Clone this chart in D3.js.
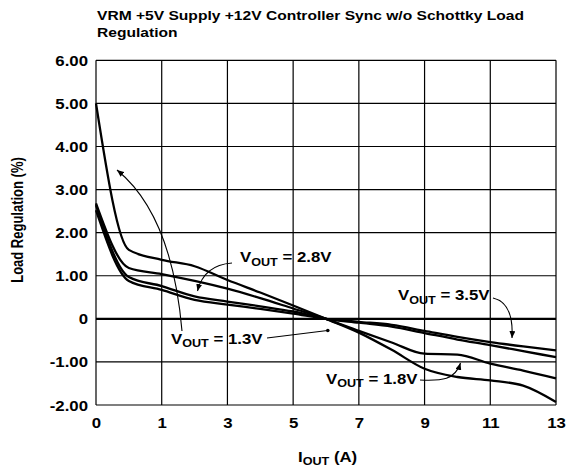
<!DOCTYPE html>
<html><head><meta charset="utf-8">
<script src="https://cdn.jsdelivr.net/npm/d3@7/dist/d3.min.js"></script>
<style>
body{margin:0;background:#fff}
text{font-family:"Liberation Sans",Arial,Helvetica,sans-serif;font-weight:bold;fill:#000}
</style>
</head><body>
<svg id="chart" width="573" height="467"></svg>
<script>
// ---- data ----
const categories = ["0","0.5","1","2","3","4","5","6","7","8","9","10","11","12","13"];
const xTickLabels = ["0","1","3","5","7","9","11","13"];
const yTicks = [-2,-1,0,1,2,3,4,5,6];
const vout13 = [5.00,1.60,1.37,1.22,0.90,0.61,0.31,0,-0.32,-0.72,-1.16,-1.35,-1.43,-1.55,-1.93];
const vout18 = [2.68,1.18,1.04,0.88,0.70,0.48,0.24,0,-0.28,-0.55,-0.81,-0.83,-1.04,-1.20,-1.38];
const vout28 = [2.64,0.97,0.76,0.52,0.40,0.29,0.17,0,-0.09,-0.18,-0.33,-0.48,-0.61,-0.75,-0.89];
const vout35 = [2.52,0.88,0.67,0.44,0.33,0.23,0.12,0,-0.07,-0.14,-0.28,-0.42,-0.54,-0.64,-0.73];
const titleLines = ["VRM +5V Supply +12V Controller Sync w/o Schottky Load","Regulation"];

const SX = 1.2; // horizontal stretch of the original artwork text
const svg = d3.select("#chart");
const pLeft = 96, pRight = 556, pTop = 60.3, pBottom = 405;

const x = d3.scalePoint().domain(categories).range([pLeft, pRight]);
const y = d3.scaleLinear().domain([-2, 6]).range([pBottom, pTop]);

// defs: arrowhead
svg.append("defs").append("marker")
  .attr("id","arr").attr("markerUnits","userSpaceOnUse")
  .attr("markerWidth",8).attr("markerHeight",6)
  .attr("refX",7).attr("refY",3).attr("orient","auto")
  .append("path").attr("d","M0,0 L7,3 L0,6 Z").attr("fill","#000");

// grid
const grid = svg.append("g");
grid.selectAll("line.v").data(xTickLabels).join("line").attr("class","v")
  .attr("x1", d => x(d)).attr("x2", d => x(d))
  .attr("y1", pTop).attr("y2", pBottom)
  .attr("stroke","#000").attr("stroke-width",1.2);
grid.selectAll("line.h").data(yTicks).join("line").attr("class","h")
  .attr("x1", pLeft).attr("x2", pRight)
  .attr("y1", d => y(d)).attr("y2", d => y(d))
  .attr("stroke","#000").attr("stroke-width", d => d === 0 ? 2.4 : 1.2);

// axes (labels only)
const yAxis = svg.append("g").attr("transform",`translate(${pLeft},0)`)
  .call(d3.axisLeft(y).tickValues(yTicks).tickSize(0).tickPadding(0)
    .tickFormat(d => d === 0 ? "0" : d.toFixed(2)));
yAxis.select(".domain").remove();
yAxis.selectAll("text").attr("x",null).attr("dy","0.36em")
  .attr("font-size",14).attr("text-anchor","end")
  .attr("transform",`translate(-8,0) scale(${SX},1)`)
  .style("font-family",'"Liberation Sans",Arial,sans-serif').style("font-weight","bold");

const xAxis = svg.append("g").attr("transform",`translate(0,${pBottom})`)
  .call(d3.axisBottom(x).tickValues(xTickLabels).tickSize(0).tickPadding(0));
xAxis.select(".domain").remove();
xAxis.selectAll("text").attr("y",null).attr("dy",null)
  .attr("font-size",14)
  .attr("transform",`translate(0,23) scale(${SX},1)`)
  .style("font-family",'"Liberation Sans",Arial,sans-serif').style("font-weight","bold");

// series lines
const line = d3.line()
  .x((d,i) => x(categories[i]))
  .y(d => y(d))
  .curve(d3.curveMonotoneX);
svg.append("g").selectAll("path").data([vout13, vout18, vout28, vout35]).join("path")
  .attr("d", line).attr("fill","none").attr("stroke","#000")
  .attr("stroke-width",2.3).attr("stroke-linejoin","round");

// title
svg.append("g").selectAll("text").data(titleLines).join("text")
  .attr("transform",(d,i) => `translate(97,${19.5 + i*17.5}) scale(${SX},1)`)
  .attr("font-size",13).text(d => d);

// axis titles
svg.append("text")
  .attr("transform",`translate(23,220) scale(${SX},1) rotate(-90)`)
  .attr("text-anchor","middle").attr("font-size",13)
  .text("Load Regulation (%)");

function voutText(xp, yp, pre, sub, post, size, subSize){
  const t = svg.append("text")
    .attr("transform",`translate(${xp},${yp}) scale(${SX},1)`)
    .attr("font-size",size);
  t.append("tspan").text(pre);
  t.append("tspan").attr("font-size",subSize).attr("dy",3.4).text(sub);
  t.append("tspan").attr("dy",-3.4).text(post);
  return t;
}
voutText(298, 461.5, "I", "OUT", " (A)", 14, 10.5);

// annotations
const labelPos = [[171,343.5],[240,262.3],[398,300.3],[326,384]];
const labelOrder = ["1.3V","2.8V","3.5V","1.8V"];
labelOrder.forEach((n,i) => voutText(labelPos[i][0], labelPos[i][1], "V", "OUT", " = " + n, 14, 10.5));

const ann = svg.append("g").attr("fill","none").attr("stroke","#000").attr("stroke-width",1.1);
ann.append("path").attr("d","M182,331 Q172,215 117,170").attr("marker-end","url(#arr)");
ann.append("path").attr("d","M267,338 L327.5,330.5");
svg.append("circle").attr("cx",327.8).attr("cy",330.5).attr("r",1.8).attr("fill","#000");
ann.append("path").attr("d","M232,263 Q204,265 197.5,291").attr("marker-end","url(#arr)");
ann.append("path").attr("d","M493,298 Q514,303 512,338").attr("marker-end","url(#arr)");
ann.append("path").attr("d","M420,380 C442,381 455,380 460.5,363").attr("marker-end","url(#arr)");
</script>
</body></html>
